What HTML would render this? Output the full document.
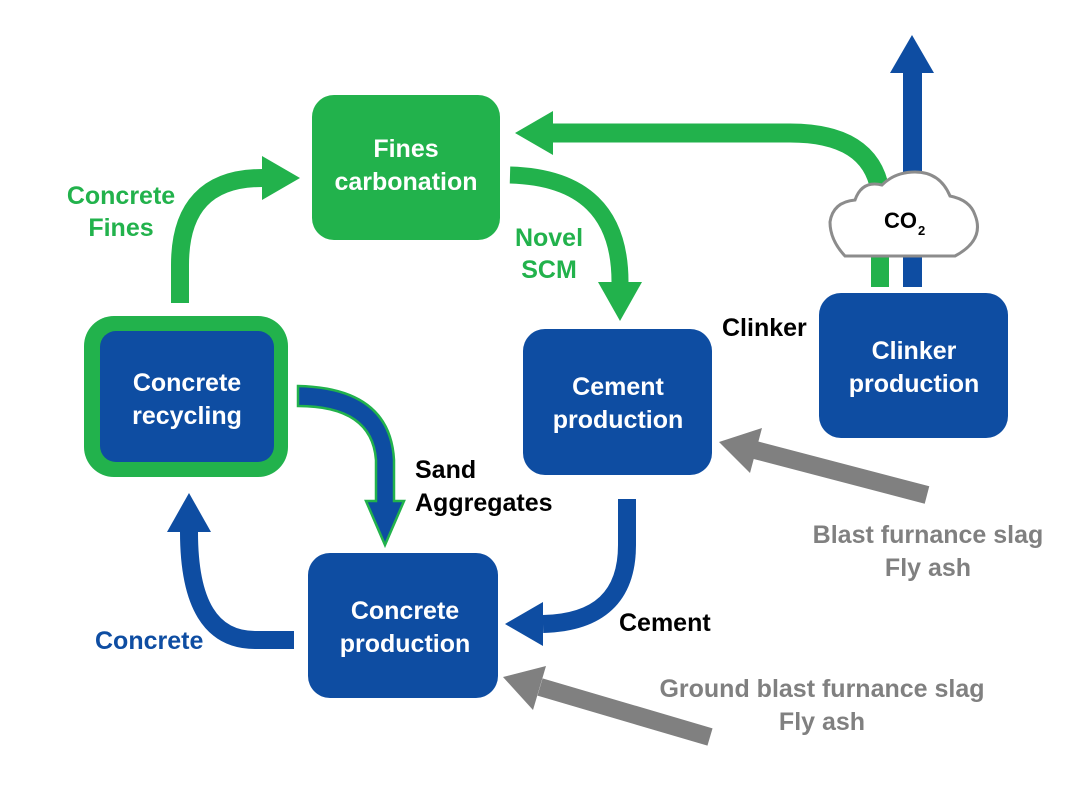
<!DOCTYPE html>
<html><head><meta charset="utf-8"><style>
html,body{margin:0;padding:0;background:#fff;}
svg{display:block;}
text{font-family:"Liberation Sans",Arial,sans-serif;font-weight:bold;}
</style></head><body>
<svg width="1083" height="789" viewBox="0 0 1083 789" xmlns="http://www.w3.org/2000/svg">
<!-- Boxes -->
<rect x="312" y="95" width="188" height="145" rx="22" fill="#22b24c"/>
<rect x="84" y="316" width="204" height="161" rx="30" fill="#22b24c"/>
<rect x="100" y="331" width="174" height="131" rx="16" fill="#0e4da2"/>
<rect x="523" y="329" width="189" height="146" rx="22" fill="#0e4da2"/>
<rect x="819" y="293" width="189" height="145" rx="22" fill="#0e4da2"/>
<rect x="308" y="553" width="190" height="145" rx="22" fill="#0e4da2"/>

<!-- Green: recycling -> fines -->
<path d="M180,303 L180,265 Q180,178 262,178" fill="none" stroke="#22b24c" stroke-width="18"/>
<polygon points="300,178 262,156 262,200" fill="#22b24c"/>
<!-- Green: fines -> cement -->
<path d="M510,175 Q620,178 620,282" fill="none" stroke="#22b24c" stroke-width="17"/>
<polygon points="620,321 598,282 642,282" fill="#22b24c"/>
<!-- Green: CO2 -> fines -->
<path d="M880,190 Q870,133 790,133 L553,133" fill="none" stroke="#22b24c" stroke-width="19"/>
<polygon points="515,133 553,111 553,155" fill="#22b24c"/>
<rect x="871" y="250" width="18" height="37" fill="#22b24c"/>
<!-- Blue up -->
<rect x="903" y="72" width="19" height="215" fill="#0e4da2"/>
<polygon points="912,35 890,73 934,73" fill="#0e4da2"/>
<!-- Cloud -->
<path d="M845,256 L955,256 Q985,240 975,215 Q970,200 950,196 Q940,172 915,172 Q895,172 882,185 Q862,180 855,200 Q833,202 830,222 Q830,240 845,256 Z" fill="#fff" stroke="#8c8c8c" stroke-width="3"/>
<text x="884" y="228" font-size="22" fill="#000">CO</text>
<text x="918" y="235" font-size="13" fill="#000">2</text>

<!-- Blue with green outline -->
<path d="M298,386 L298,406 Q372,406 376,460 L376,501 L366,501 L385,545 L404,501 L394,501 L394,460 Q390,388 298,386 Z" fill="#0e4da2" stroke="#22b24c" stroke-width="2.5"/>
<!-- Blue: concrete production -> recycling -->
<path d="M294,640 L255,640 Q189,640 189,532" fill="none" stroke="#0e4da2" stroke-width="18"/>
<polygon points="189,493 167,532 211,532" fill="#0e4da2"/>
<!-- Blue: cement -> concrete production -->
<path d="M627,499 L627,545 Q627,622 543,624" fill="none" stroke="#0e4da2" stroke-width="18"/>
<polygon points="505,624 543,602 543,646" fill="#0e4da2"/>

<!-- Gray arrows -->
<line x1="927" y1="495" x2="755" y2="450" stroke="#808080" stroke-width="18"/>
<polygon points="719,442 762,428 750,473" fill="#808080"/>
<line x1="710" y1="737" x2="540" y2="687" stroke="#808080" stroke-width="18"/>
<polygon points="503,677 546,666 533,710" fill="#808080"/>

<!-- Box labels -->
<g fill="#fff" font-size="25" text-anchor="middle">
<text x="406" y="157">Fines</text>
<text x="406" y="190">carbonation</text>
<text x="187" y="391">Concrete</text>
<text x="187" y="424">recycling</text>
<text x="618" y="395">Cement</text>
<text x="618" y="428">production</text>
<text x="914" y="359">Clinker</text>
<text x="914" y="392">production</text>
<text x="405" y="619">Concrete</text>
<text x="405" y="652">production</text>
</g>
<!-- Other labels -->
<g font-size="25">
<text x="121" y="204" fill="#22b24c" text-anchor="middle">Concrete</text>
<text x="121" y="236" fill="#22b24c" text-anchor="middle">Fines</text>
<text x="549" y="246" fill="#22b24c" text-anchor="middle">Novel</text>
<text x="549" y="278" fill="#22b24c" text-anchor="middle">SCM</text>
<text x="722" y="336" fill="#000">Clinker</text>
<text x="415" y="478" fill="#000">Sand</text>
<text x="415" y="511" fill="#000">Aggregates</text>
<text x="619" y="631" fill="#000">Cement</text>
<text x="95" y="649" fill="#0e4da2">Concrete</text>
<text x="928" y="543" fill="#808080" text-anchor="middle">Blast furnance slag</text>
<text x="928" y="576" fill="#808080" text-anchor="middle">Fly ash</text>
<text x="822" y="697" fill="#808080" text-anchor="middle">Ground blast furnance slag</text>
<text x="822" y="730" fill="#808080" text-anchor="middle">Fly ash</text>
</g>
</svg>
</body></html>
